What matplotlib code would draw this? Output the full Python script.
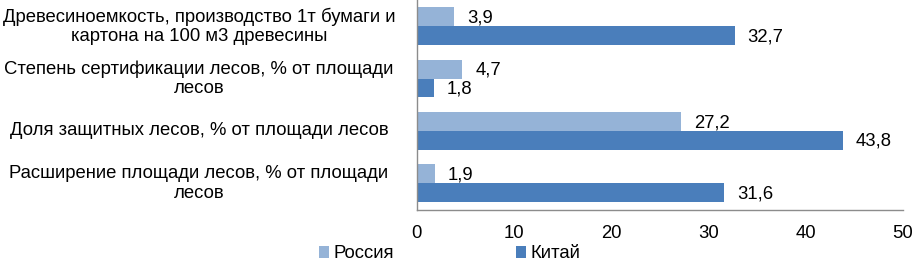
import matplotlib
matplotlib.use("Agg")
import matplotlib.pyplot as plt
import matplotlib.transforms as mtransforms
import numpy as np

categories = [
    "Древесиноемкость, производство 1т бумаги и\nкартона на 100 м3 древесины",
    "Степень сертификации лесов, % от площади\nлесов",
    "Доля защитных лесов, % от площади лесов",
    "Расширение площади лесов, % от площади\nлесов",
]
russia = [3.9, 4.7, 27.2, 1.9]
china = [32.7, 1.8, 43.8, 31.6]
series_names = ["Россия", "Китай"]
xticks = [0, 10, 20, 30, 40, 50]

plt.rcParams['font.family'] = ['Liberation Sans', 'DejaVu Sans']
FS = 13.3

fig = plt.figure(figsize=(9.13, 2.61), dpi=100)
ax = fig.add_axes([416.5/913, 51.5/261, (903-416.5)/913, 209.5/261])

y = np.arange(len(categories))
h = 0.36
c_ru = "#95B3D7"
c_cn = "#4A7EBB"
b1 = ax.barh(y - h/2, russia, height=h, color=c_ru, label=series_names[0])
b2 = ax.barh(y + h/2, china, height=h, color=c_cn, label=series_names[1])

for bars, vals in ((b1, russia), (b2, china)):
    for rect, v in zip(bars, vals):
        ax.annotate(f"{v:.1f}".replace(".", ","),
                    xy=(rect.get_width(), rect.get_y() + rect.get_height()/2),
                    xytext=(13, -1), textcoords="offset pixels",
                    ha="left", va="center", fontsize=FS)

ax.set_xlim(0, 50)
ax.set_ylim(len(categories) - 0.5, -0.5)
ax.set_xticks(xticks)
ax.set_xticklabels([str(t) for t in xticks], fontsize=FS)
ax.tick_params(axis='x', length=0, pad=11.5)
ax.set_yticks([])
for s in ("top", "right"):
    ax.spines[s].set_visible(False)
for s in ("left", "bottom"):
    ax.spines[s].set_color("#8C8C8C")
    ax.spines[s].set_linewidth(1.0)

trans = mtransforms.blended_transform_factory(fig.transFigure, ax.transData)
for yi, lab in zip(y, categories):
    ax.text(199/913, yi, lab, transform=trans, ha="center", va="center",
            multialignment="center", fontsize=FS, linespacing=1.2)

fig.legend(handles=[b1, b2], labels=series_names, loc="center left",
           bbox_to_anchor=(319/913, 1 - 254/261), ncol=2, frameon=False,
           fontsize=FS, handlelength=0.55, handleheight=0.55, handletextpad=0.25,
           columnspacing=6.6, borderpad=0, borderaxespad=0)

fig.savefig("out.png", dpi=100)
